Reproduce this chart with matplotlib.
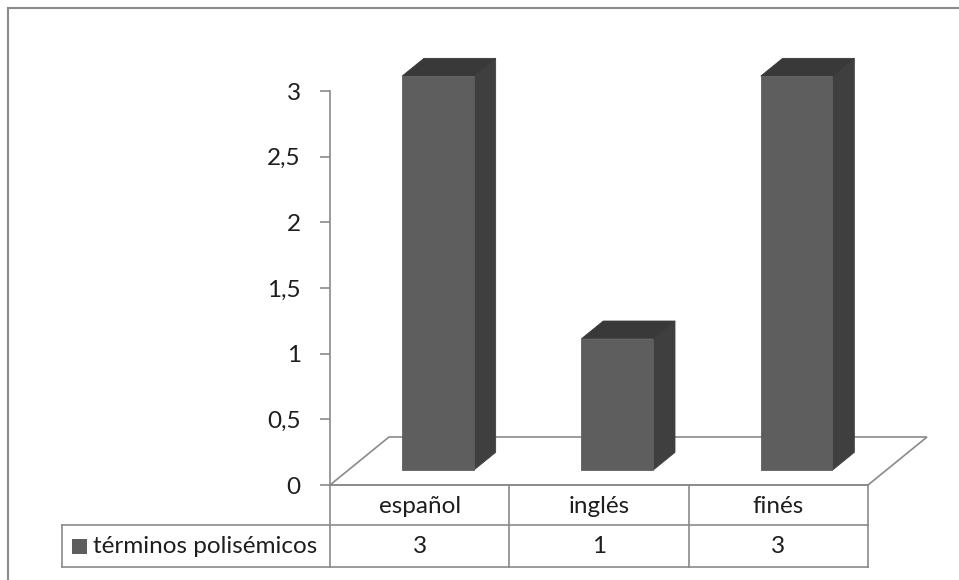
import matplotlib
matplotlib.use("Agg")
import matplotlib.pyplot as plt
from matplotlib.patches import Polygon, Rectangle

categories = ["español", "inglés", "finés"]
values = [3, 1, 3]
series_name = "términos polisémicos"
yticks = [0, 0.5, 1, 1.5, 2, 2.5, 3]

FRONT = "#5e5e5e"
SIDE = "#3f3f3f"
TOP = "#393939"
LINE = "#8a8a8a"
TEXT = "#1e1e1e"

plt.rcParams["font.family"] = ["Lato", "DejaVu Sans"]
FS = 17.5

W, H = 959, 580
fig = plt.figure(figsize=(W / 100, H / 100), dpi=100)

# plot box in pixels: x axis 330..868, values 0..3 at y 485..91
px0, px1, py0, py1 = 330, 868, 485, 91
ax = fig.add_axes([px0 / W, (H - py0) / H, (px1 - px0) / W, (py0 - py1) / H])
ax.set_xlim(0, 3)
ax.set_ylim(0, 3)
cat_px = (px1 - px0) / 3
val_px = (py0 - py1) / 3

# depth of the 3d box, in data units
DX = 59 / cat_px
DY = 48 / val_px


def proj(x, y, z):
    return (x + z * DX, y + z * DY)


# floor
floor = [proj(0, 0, 0), proj(3, 0, 0), proj(3, 0, 1), proj(0, 0, 1)]
ax.add_patch(Polygon(floor, closed=True, facecolor="white", edgecolor=LINE,
                     lw=1.2, clip_on=False, zorder=1))

# bars
bw = 0.40
z0, z1 = 0.31, 0.68
for i, v in enumerate(values):
    xl = i + 0.5 - bw / 2
    xr = i + 0.5 + bw / 2
    side = [proj(xr, 0, z0), proj(xr, 0, z1), proj(xr, v, z1), proj(xr, v, z0)]
    top = [proj(xl, v, z0), proj(xr, v, z0), proj(xr, v, z1), proj(xl, v, z1)]
    front = [proj(xl, 0, z0), proj(xr, 0, z0), proj(xr, v, z0), proj(xl, v, z0)]
    for pts, c in ((side, SIDE), (top, TOP), (front, FRONT)):
        ax.add_patch(Polygon(pts, closed=True, facecolor=c, edgecolor=c,
                             lw=0.6, clip_on=False, zorder=3))

# value axis
for s in ("top", "right", "bottom"):
    ax.spines[s].set_visible(False)
ax.spines["left"].set_color(LINE)
ax.spines["left"].set_linewidth(1.2)
ax.set_yticks(yticks)
ax.set_yticklabels([f"{t:g}".replace(".", ",") for t in yticks])
ax.tick_params(axis="y", length=7, width=1.2, color=LINE, pad=14,
               labelsize=FS, labelcolor=TEXT)
ax.set_xticks([])
ax.patch.set_alpha(0)

# data table under the chart
row_h = 0.305
leg_x = (62 - px0) / cat_px
y_hdr = -row_h
y_val = -2 * row_h - 0.015
kw = dict(color=LINE, lw=1.2, clip_on=False, zorder=2)
ax.plot([0, 3], [0, 0], **kw)
ax.plot([leg_x, 3], [y_hdr, y_hdr], **kw)
ax.plot([leg_x, 3], [y_val, y_val], **kw)
ax.plot([leg_x, leg_x], [y_hdr, y_val], **kw)
for k in range(len(categories) + 1):
    ax.plot([k, k], [0, y_val], **kw)

for i, (c, v) in enumerate(zip(categories, values)):
    ax.text(i + 0.5, y_hdr / 2 - 0.01, c, ha="center", va="center",
            fontsize=FS, color=TEXT, clip_on=False)
    ax.text(i + 0.5, (y_hdr + y_val) / 2, str(v), ha="center", va="center",
            fontsize=FS, color=TEXT, clip_on=False)

# legend key inside the table
ymid = (y_hdr + y_val) / 2
sq_w = 15 / cat_px
sq_h = 15 / val_px
ax.add_patch(Rectangle(((72 - px0) / cat_px, ymid - sq_h / 2), sq_w, sq_h,
                       facecolor=FRONT, edgecolor="none", clip_on=False))
ax.text((93 - px0) / cat_px, ymid, series_name, ha="left", va="center",
        fontsize=FS, color=TEXT, clip_on=False)

# chart frame
fig.add_artist(Rectangle((8 / W, -0.05), 1.2, (H - 8) / H + 0.05,
                         transform=fig.transFigure, facecolor="none",
                         edgecolor=LINE, lw=1.5))

fig.savefig("out.png", dpi=100)
